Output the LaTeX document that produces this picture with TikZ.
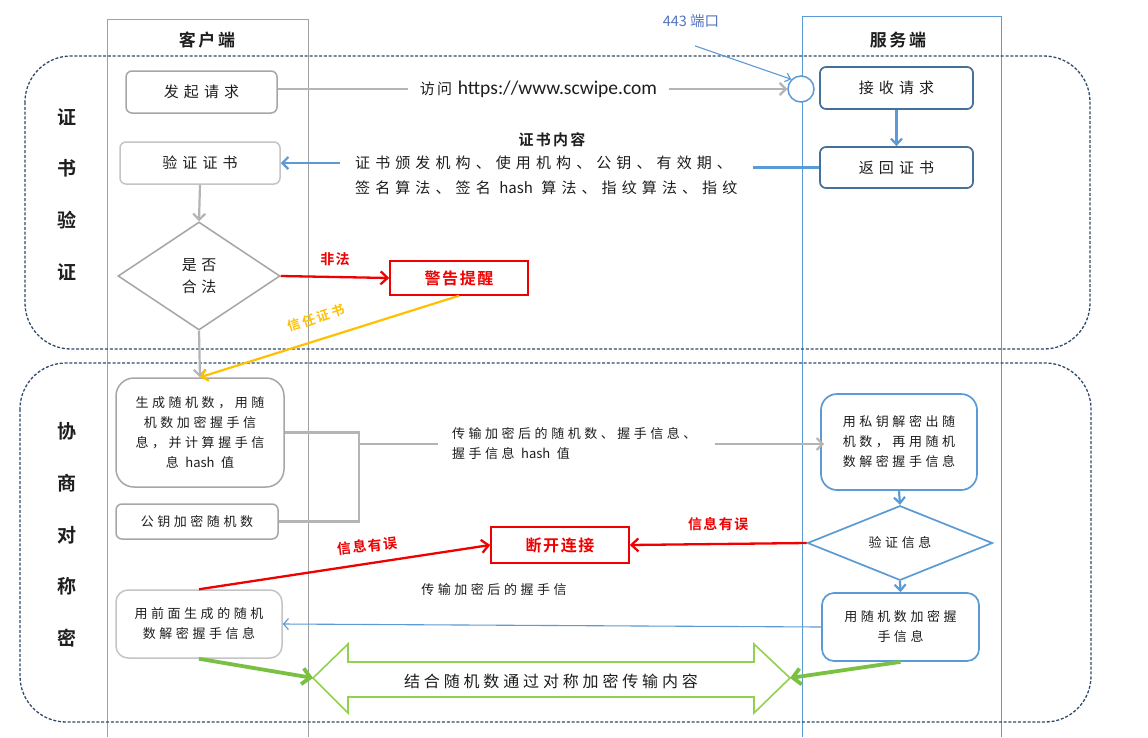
\documentclass[tikz,border=0pt]{standalone}
\usepackage{fontspec}
\setmainfont{Noto Sans CJK SC}
\newfontfamily\cjkb{Noto Sans CJK SC Bold}
\newfontfamily\urlf{Carlito}
\usetikzlibrary{arrows.meta,shapes.geometric}
\definecolor{txt}{HTML}{1E1E1E}
\definecolor{lanegray}{HTML}{A0A0A0}
\definecolor{linegray}{HTML}{B4B4B4}
\definecolor{laneblue}{HTML}{5B9BD5}
\definecolor{dashcol}{HTML}{2F4A6B}
\definecolor{boxgray}{HTML}{A6A6A6}
\definecolor{boxlight}{HTML}{C4C4C4}
\definecolor{boxdark}{HTML}{44709C}
\definecolor{boxblue}{HTML}{5B9BD5}
\definecolor{redc}{HTML}{F00000}
\definecolor{orangec}{HTML}{FFC000}
\definecolor{greenc}{HTML}{7AC143}
\definecolor{greenl}{HTML}{92D050}
\definecolor{bluetxt}{HTML}{5575C0}
\newcommand{\nosp}[1]{{\addfontfeature{LetterSpace=0}#1}}
\begin{document}
\begin{tikzpicture}[x=1pt,y=-1pt,
  every node/.style={inner sep=0pt, align=center, text=txt},
  tmain/.style={font=\fontsize{15}{25}\selectfont\addfontfeature{LetterSpace=34}},
  tsmall/.style={font=\fontsize{13}{20}\selectfont\addfontfeature{LetterSpace=27}},
  tbold/.style={font=\cjkb\fontsize{15}{20}\selectfont\addfontfeature{LetterSpace=15}},
  hdr/.style={font=\cjkb\fontsize{17}{20}\selectfont\addfontfeature{LetterSpace=15}},
  side/.style={font=\cjkb\fontsize{19}{51.7}\selectfont},
  gbox/.style={draw=boxgray, line width=1.5pt, rounded corners=6pt, fill=white},
  lbox/.style={draw=boxlight, line width=1.5pt, rounded corners=6pt, fill=white},
  dbox/.style={draw=boxdark, line width=1.7pt, rounded corners=6pt, fill=white},
  bbox/.style={draw=boxblue, line width=1.7pt, rounded corners=12pt, fill=white},
  rbox/.style={draw=redc, line width=1.5pt, fill=white, text=redc,
    font=\cjkb\fontsize{16}{20}\selectfont\addfontfeature{LetterSpace=10}},
  dashbox/.style={draw=dashcol, line width=1.3pt, dash pattern=on 3pt off 1.8pt, rounded corners=46pt},
  gline/.style={draw=linegray, line width=2.2pt},
  garrow/.style={draw=linegray, line width=2.2pt, -{Straight Barb[length=6pt,width=12pt]}},
  barrow/.style={draw=boxblue, line width=2.2pt, -{Straight Barb[length=6pt,width=11pt]}},
  rarrow/.style={draw=redc, line width=2.3pt, -{Straight Barb[length=7pt,width=13pt]}},
  rlabel/.style={text=redc, font=\cjkb\fontsize{14}{16}\selectfont\addfontfeature{LetterSpace=10}},
  greenarrow/.style={draw=greenc, line width=3.8pt, -{Straight Barb[length=8pt,width=16pt]}}
]
\useasboundingbox (0,0) rectangle (1148,737);
\fill[white] (0,0) rectangle (1148,737);

% swim lanes
\draw[lanegray, line width=1pt] (107,737) -- (107,19) -- (308,19) -- (308,737);
\draw[laneblue, line width=1pt] (802,737) -- (802,16) -- (1001,16) -- (1001,737);
\node[hdr] (hc) at (207,40) {客户端};
\node[hdr] (hs) at (898,40) {服务端};

% phase frames
\draw[dashbox] (25,56) rectangle (1090,349);
\draw[dashbox] (20,363) rectangle (1091,722);
\node[side] (side1) at (67,194.5) {证\\书\\验\\证};
\node[side] (side2) at (67,535) {协\\商\\对\\称\\密};

% ---------- certificate phase ----------
\node[gbox, tmain, minimum width=151pt, minimum height=42pt] (req) at (201.5,92) {发起请求};
\node[lbox, tmain, minimum width=160pt, minimum height=42pt] (verify) at (200,163) {验证证书};
\node[draw=boxgray, line width=1.5pt, diamond, minimum width=162pt, minimum height=108pt,
      tmain, font=\fontsize{15}{22}\selectfont\addfontfeature{LetterSpace=30}] (legal) at (199,276) {是否\\合法};
\node[rbox, minimum width=138pt, minimum height=34pt] (warn) at (459,278) {警告提醒};

\node[draw=laneblue, line width=1.5pt, fill=white, circle, minimum size=26pt] (port) at (801,89) {};
\node[dbox, tmain, minimum width=153pt, minimum height=42pt] (recv) at (896.5,88) {接收请求};
\node[dbox, tmain, minimum width=153pt, minimum height=41pt] (ret) at (896.5,167.5) {返回证书};

\node[text=bluetxt, font=\fontsize{14.5}{16}\selectfont] (lbl443) at (691,21) {443 端口};
\node[tmain, inner xsep=12pt, font=\fontsize{15}{25}\selectfont\addfontfeature{LetterSpace=15}] (acc) at (538.5,89)
  {访问 {\urlf\fontsize{19.5}{20}\selectfont https://www.scwipe.com}};
\node[tbold] (certtitle) at (552,140) {证书内容};
\node[tmain, align=left, anchor=west, inner xsep=15pt] (certtext) at (340,175.5)
  {证书颁发机构、使用机构、公钥、有效期、\\签名算法、签名 \nosp{hash} 算法、指纹算法、指纹};

\draw[gline] (req.east |- acc.west) -- (acc.west);
\draw[garrow] (acc.east) -- (port.west);
\draw[draw=laneblue, line width=1.1pt, -{Straight Barb[length=5pt,width=9pt]}] ([xshift=4pt,yshift=-18pt]lbl443.south) -- (port.north west);
\draw[barrow] (recv.south) -- (ret.north);
\draw[draw=boxblue, line width=2.2pt] (ret.west) -- (certtext.east |- ret.west);
\draw[draw=boxblue, line width=2.2pt, -{Straight Barb[length=6pt,width=12pt]}] (certtext.west |- verify.east) -- (verify.east);
\draw[garrow] (verify.south) -- (legal.north);
\draw[rarrow] (legal.east) -- node[rlabel, above=10pt] (lblillegal) {非法} (warn.west);

% ---------- negotiation phase ----------
\node[draw=boxgray, line width=1.5pt, rounded corners=18pt, fill=white, tsmall,
      minimum width=168pt, minimum height=109pt] (gen) at (200,432.5)
  {生成随机数，用随\\机数加密握手信\\息，并计算握手信\\息 \nosp{hash} 值};
\node[gbox, tsmall, minimum width=162pt, minimum height=35pt] (pub) at (197,521.5) {公钥加密随机数};
\draw[garrow] (legal.south) -- (gen.north);
\draw[draw=orangec, line width=2.2pt, -{Straight Barb[length=6pt,width=12pt]}] (warn.south) -- (gen.north);
\node[text=orangec, font=\cjkb\fontsize{13}{15}\selectfont\addfontfeature{LetterSpace=18}, rotate=18] (lbltrust) at (316,318) {信任证书};

\coordinate (brk) at (359,444);
\node[tsmall, align=left, anchor=west, inner xsep=14pt, inner ysep=2pt] (trans) at (438,444)
  {传输加密后的随机数、握手信息、\\握手信息 \nosp{hash} 值};
\draw[gline] (gen.east) -| (brk) |- (pub.east);
\draw[gline] (brk) -- (trans.west);

\node[bbox, tsmall, minimum width=156pt, minimum height=96pt, rounded corners=16pt] (decrypt) at (899,442)
  {用私钥解密出随\\机数，再用随机\\数解密握手信息};
\draw[garrow] ([xshift=4pt]trans.east) -- ([xshift=4pt]trans.east -| decrypt.west);
\node[draw=boxblue, line width=1.7pt, diamond, fill=white, tsmall, minimum width=185pt, minimum height=60pt] (check) at (900,543) {验证信息};
\draw[barrow] (decrypt.south) -- (check.north);
\node[rbox, minimum width=138pt, minimum height=36pt] (cut) at (560,545) {断开连接};
\draw[rarrow] (check.west) -- node[rlabel, above=12pt] (lblerr1) {信息有误} (cut.east);

\node[bbox, tsmall, minimum width=157pt, minimum height=68pt] (enc) at (900.5,627) {用随机数加密握\\手信息};
\draw[barrow] (check.south) -- (enc.north);
\node[lbox, tsmall, rounded corners=12pt, minimum width=166pt, minimum height=68pt] (decode) at (199,624)
  {用前面生成的随机\\数解密握手信息};
\draw[draw=boxblue, line width=1.1pt, -{Straight Barb[length=5pt,width=11pt]}] (enc.west) -- (decode.east);
\node[tsmall] (lblhs) at (494,590) {传输加密后的握手信};
\draw[rarrow] (decode.north) -- node[rlabel, pos=0.58, above=10pt, rotate=6] (lblerr2) {信息有误} (cut.west);

% big double arrow
\coordinate (bigL) at (313,678);
\coordinate (bigR) at (790,678);
\draw[draw=greenl, line width=1.6pt, fill=white, line join=miter]
  (bigL) -- (348,644) -- (348,662) -- (754,662) -- (754,644) -- (bigR) -- (754,713) -- (754,697)
  -- (348,697) -- (348,713) -- cycle;
\node[tmain, font=\fontsize{16}{20}\selectfont\addfontfeature{LetterSpace=24}] (sym) at (551,681) {结合随机数通过对称加密传输内容};
\draw[greenarrow] (decode.south) -- (bigL);
\draw[greenarrow] (enc.south) -- (bigR);
\end{tikzpicture}
\end{document}
